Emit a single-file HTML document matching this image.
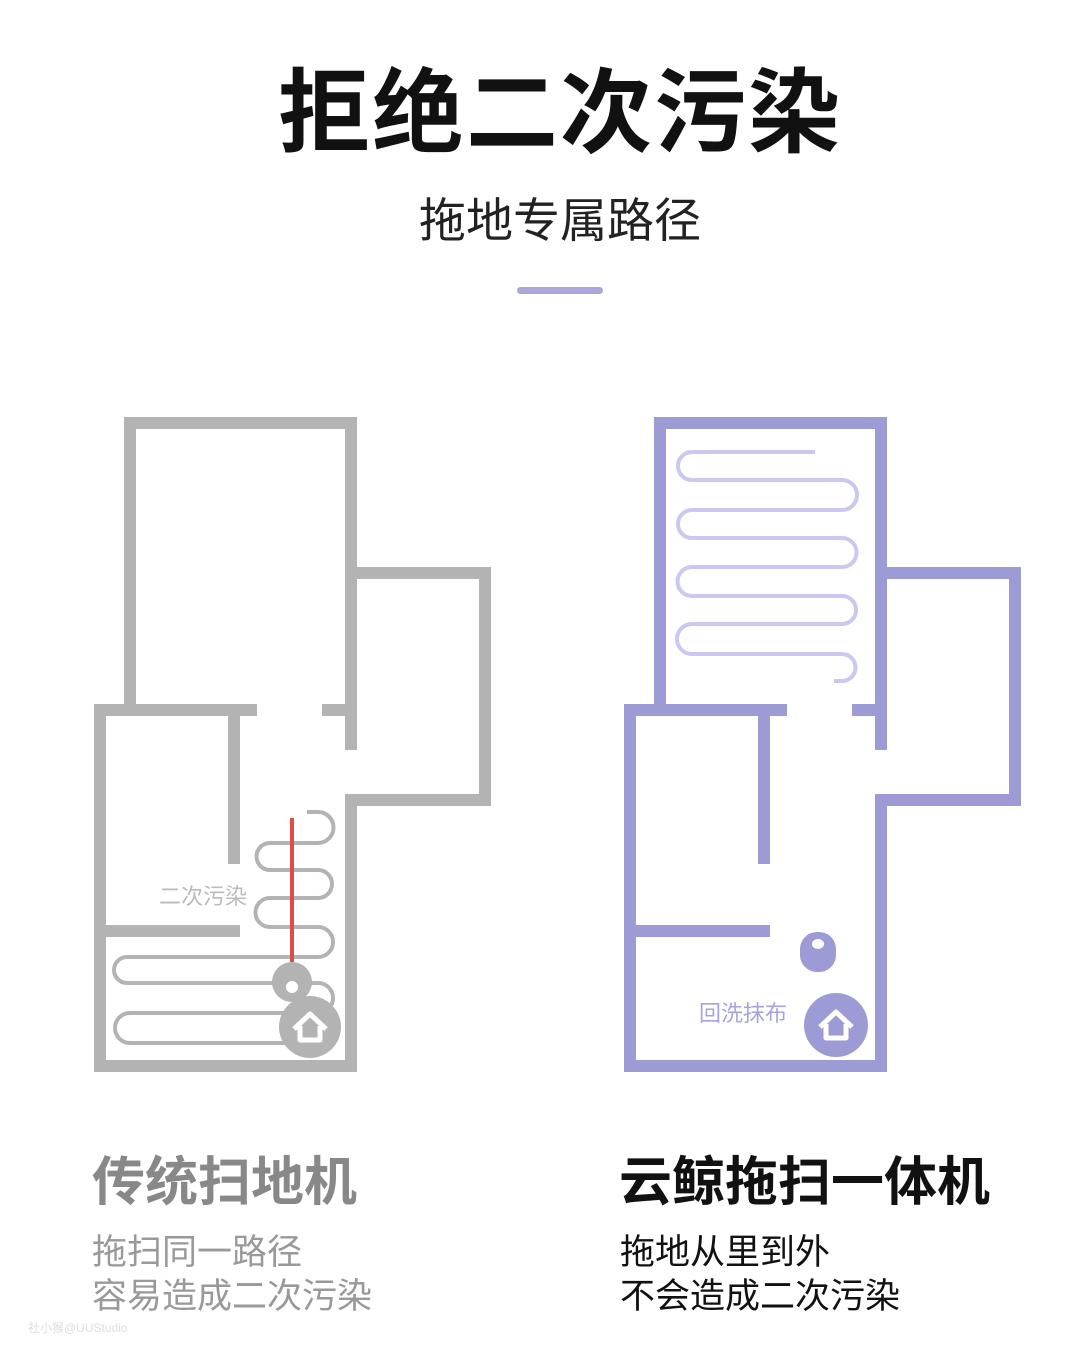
<!DOCTYPE html>
<html><head><meta charset="utf-8"><style>
html,body{margin:0;padding:0;background:#fff;}
svg{display:block;}
text{font-family:"Liberation Sans","Noto Sans CJK SC",sans-serif;}
</style></head><body>
<svg width="1080" height="1365" viewBox="0 0 1080 1365" xmlns="http://www.w3.org/2000/svg">
<rect width="1080" height="1365" fill="#fff"/>
<text x="560" y="145" font-size="92" font-weight="700" text-anchor="middle" fill="#111" letter-spacing="2">拒绝二次污染</text>
<text x="560" y="237" font-size="47" text-anchor="middle" fill="#222">拖地专属路径</text>
<rect x="517" y="287" width="86" height="7" rx="3.5" fill="#a9a6dc"/>

<!-- gray plan -->
<g fill="#b3b3b3">
<rect x="124" y="417" width="233" height="12"/>
<rect x="124" y="417" width="12" height="299"/>
<rect x="345" y="417" width="12" height="333"/>
<rect x="94" y="704" width="163" height="12"/>
<rect x="322" y="704" width="35" height="12"/>
<rect x="357" y="567" width="134" height="12"/>
<rect x="479" y="567" width="12" height="239"/>
<rect x="345" y="794" width="146" height="12"/>
<rect x="94" y="704" width="12" height="368"/>
<rect x="94" y="1060" width="263" height="12"/>
<rect x="345" y="794" width="12" height="278"/>
<rect x="228" y="716" width="12" height="148"/>
<rect x="106" y="925" width="134" height="12"/>
</g>
<path d="M307 812 H318 A15.5 15.5 0 0 1 318 843 H270 A13.5 13.5 0 0 0 270 870 H318 A14 14 0 0 1 318 898 H270 A14.5 14.5 0 0 0 270 927 H318 A15 15 0 0 1 318 957 H127 A13 13 0 0 0 127 983 H318 A15 15 0 0 1 318 1013 H130 A15 15 0 0 0 130 1043 H300" fill="none" stroke="#b3b3b3" stroke-width="4"/>
<line x1="292" y1="818" x2="292" y2="962" stroke="#e04a45" stroke-width="4"/>
<circle cx="292" cy="982" r="20" fill="#b3b3b3"/>
<circle cx="292" cy="987" r="6" fill="#fff"/>
<circle cx="310" cy="1027" r="31" fill="#b3b3b3"/>
<path d="M294 1029 L310 1014 L326 1029 M300 1026 V1040 H320 V1026" fill="none" stroke="#fff" stroke-width="5" stroke-linejoin="round"/>
<text x="159" y="904" font-size="22" fill="#bbb">二次污染</text>

<!-- purple plan -->
<g fill="#9d9bd6">
<rect x="654" y="417" width="233" height="12"/>
<rect x="654" y="417" width="12" height="299"/>
<rect x="875" y="417" width="12" height="333"/>
<rect x="624" y="704" width="163" height="12"/>
<rect x="852" y="704" width="35" height="12"/>
<rect x="887" y="567" width="134" height="12"/>
<rect x="1009" y="567" width="12" height="239"/>
<rect x="875" y="794" width="146" height="12"/>
<rect x="624" y="704" width="12" height="368"/>
<rect x="624" y="1060" width="263" height="12"/>
<rect x="875" y="794" width="12" height="278"/>
<rect x="758" y="716" width="12" height="148"/>
<rect x="636" y="925" width="134" height="12"/>
</g>
<path d="M815 452 H692 A14 14 0 0 0 692 480 H842 A15 15 0 0 1 842 510 H692 A14 14 0 0 0 692 538 H842 A14.5 14.5 0 0 1 842 567 H692 A14.5 14.5 0 0 0 692 596 H842 A14 14 0 0 1 842 624 H692 A15 15 0 0 0 692 654 H842 A13.5 13.5 0 0 1 842 681 H834" fill="none" stroke="#cac8f2" stroke-width="4"/>
<rect x="800" y="932" width="36" height="40" rx="17" fill="#9d9bd6"/>
<ellipse cx="818" cy="944" rx="6" ry="5" fill="#fff"/>
<circle cx="836" cy="1025" r="32" fill="#9d9bd6"/>
<path d="M820 1027 L836 1012 L852 1027 M826 1024 V1038 H846 V1024" fill="none" stroke="#fff" stroke-width="5" stroke-linejoin="round"/>
<text x="699" y="1021" font-size="22" fill="#a6a3da">回洗抹布</text>

<!-- captions -->
<text x="92" y="1200" font-size="53" font-weight="700" fill="#888">传统扫地机</text>
<text x="92" y="1264" font-size="35" fill="#999">拖扫同一路径</text>
<text x="92" y="1308" font-size="35" fill="#999">容易造成二次污染</text>
<text x="619" y="1200" font-size="53" font-weight="700" fill="#111">云鲸拖扫一体机</text>
<text x="620" y="1264" font-size="35" fill="#111">拖地从里到外</text>
<text x="620" y="1308" font-size="35" fill="#111">不会造成二次污染</text>
<text x="28" y="1332" font-size="12" fill="#ddd">社小猴@UUStudio</text>
</svg>
</body></html>
